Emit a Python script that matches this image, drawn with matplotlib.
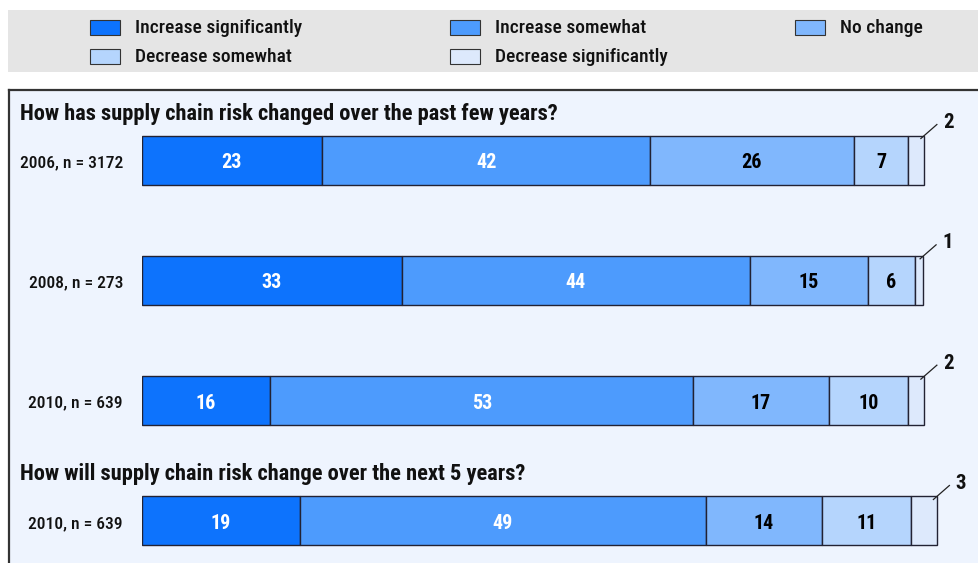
import matplotlib
matplotlib.use("Agg")
import matplotlib.pyplot as plt
from matplotlib.patches import Rectangle
from matplotlib import font_manager

fl = font_manager.fontManager.ttflist
fams = {f.name for f in fl}
cands = ['Roboto Condensed', 'Open Sans Condensed', 'Liberation Sans Narrow', 'Noto Sans Condensed',
         'DejaVu Sans Condensed']
FONT = [c for c in cands if c in fams] + ['DejaVu Sans']
plt.rcParams['font.family'] = FONT
plt.rcParams['font.stretch'] = 'condensed'

categories = ["Increase significantly", "Increase somewhat", "No change",
              "Decrease somewhat", "Decrease significantly"]
row_labels = ["2006, n = 3172", "2008, n = 273", "2010, n = 639", "2010, n = 639"]
# segment widths as drawn (percent)
inc_sig = [23.0, 33.2, 16.4, 20.2]
inc_some = [42.0, 44.5, 54.1, 51.9]
no_change = [26.0, 15.1, 17.3, 14.8]
dec_some = [7.0, 6.1, 10.2, 11.5]
dec_sig = [2.0, 1.0, 2.0, 3.2]
# printed labels
lab_inc_sig = [23, 33, 16, 19]
lab_inc_some = [42, 44, 53, 49]
lab_no_change = [26, 15, 17, 14]
lab_dec_some = [7, 6, 10, 11]
lab_dec_sig = [2, 1, 2, 3]
titles = ["How has supply chain risk changed over the past few years?",
          "How will supply chain risk change over the next 5 years?"]

colors = ["#0d73fd", "#4d9bfd", "#80b7fd", "#b5d5fd", "#dde9fc"]
text_colors = ["white", "white", "black", "black", "black"]

W, H = 979, 563
fig = plt.figure(figsize=(W / 100, H / 100), dpi=100)
fig.patch.set_facecolor("white")

def fx(px):
    return px / W

def fy(py):
    return 1 - py / H

# legend box
fig.patches.append(Rectangle((fx(8), fy(72)), fx(971), (62) / H, transform=fig.transFigure,
                             facecolor="#e5e5e5", edgecolor="none", zorder=0))
leg_pos = [(90, 27), (450, 27), (795, 27), (90, 56), (450, 56)]
for (px, py), c, name in zip(leg_pos, colors, categories):
    fig.patches.append(Rectangle((fx(px), fy(py + 8)), fx(30), 15 / H, transform=fig.transFigure,
                                 facecolor=c, edgecolor="#333333", lw=0.8, zorder=1))
    fig.text(fx(px + 45), fy(py + 1), name, fontsize=14, fontweight="medium",
             va="center", ha="left", color="#111111")

# panel
fig.patches.append(Rectangle((fx(9), 0), fx(975), fy(90), transform=fig.transFigure,
                             facecolor="#eef4fe", edgecolor="none", zorder=0))
fig.add_artist(plt.Line2D([fx(9), fx(9)], [0, fy(90)], color="#333333", lw=1.6, transform=fig.transFigure))
fig.add_artist(plt.Line2D([fx(9), 1], [fy(90), fy(90)], color="#333333", lw=1.6, transform=fig.transFigure))

# axes: x=0 at px 142, scale 7.82 px per percent ; y rows at 160,281,402,521
px_per_x = 7.82
px_per_y = 120.33
y0px = 160
ax = fig.add_axes([fx(142), 0, fx(W - 142), fy(90)])
ax.set_zorder(5)
ax.patch.set_visible(False)
ax.set_xlim(0, (W - 142) / px_per_x)
ax.set_ylim((H - y0px) / px_per_y, -(y0px - 90) / px_per_y)
ax.axis("off")

series = [inc_sig, inc_some, no_change, dec_some, dec_sig]
labels = [lab_inc_sig, lab_inc_some, lab_no_change, lab_dec_some, lab_dec_sig]
ypos = list(range(len(row_labels)))
h = 49 / px_per_y
left = [0.0] * len(ypos)
for k, (vals, labs, c, tc) in enumerate(zip(series, labels, colors, text_colors)):
    ax.barh(ypos, vals, left=left, height=h, color=c, edgecolor="#222233", lw=1.0)
    for i, (v, l) in enumerate(zip(vals, labs)):
        if k < 4:
            ax.text(left[i] + v / 2, ypos[i] + 0.02, str(l), ha="center", va="center",
                    color=tc, fontsize=14.5, fontweight="bold")
        else:
            xe = left[i] + v - 0.4
            ye = ypos[i] - h / 2 + 0.025
            x1 = xe + 16 / px_per_x
            y1 = ye - 14 / px_per_y
            ax.plot([xe, x1], [ye, y1], color="#222222", lw=0.9, clip_on=False)
            ax.text(x1 + 6 / px_per_x, y1 - 2 / px_per_y, str(l), ha="left", va="center",
                    fontsize=15, fontweight="bold", color="#111111", clip_on=False)
    left = [a + b for a, b in zip(left, vals)]

for i, lab in enumerate(row_labels):
    ax.text(-19 / px_per_x, ypos[i] + 0.02, lab, ha="right", va="center", fontsize=12.6,
            fontweight="medium", color="#111111")

ax.text(-122 / px_per_x, -(160 - 114) / px_per_y, titles[0], ha="left", va="center",
        fontsize=16.2, fontweight="heavy", color="#111111")
ax.text(-122 / px_per_x, 3 - (521 - 474) / px_per_y, titles[1], ha="left", va="center",
        fontsize=16.2, fontweight="heavy", color="#111111")

fig.savefig("out.png", dpi=100, facecolor=fig.get_facecolor())
